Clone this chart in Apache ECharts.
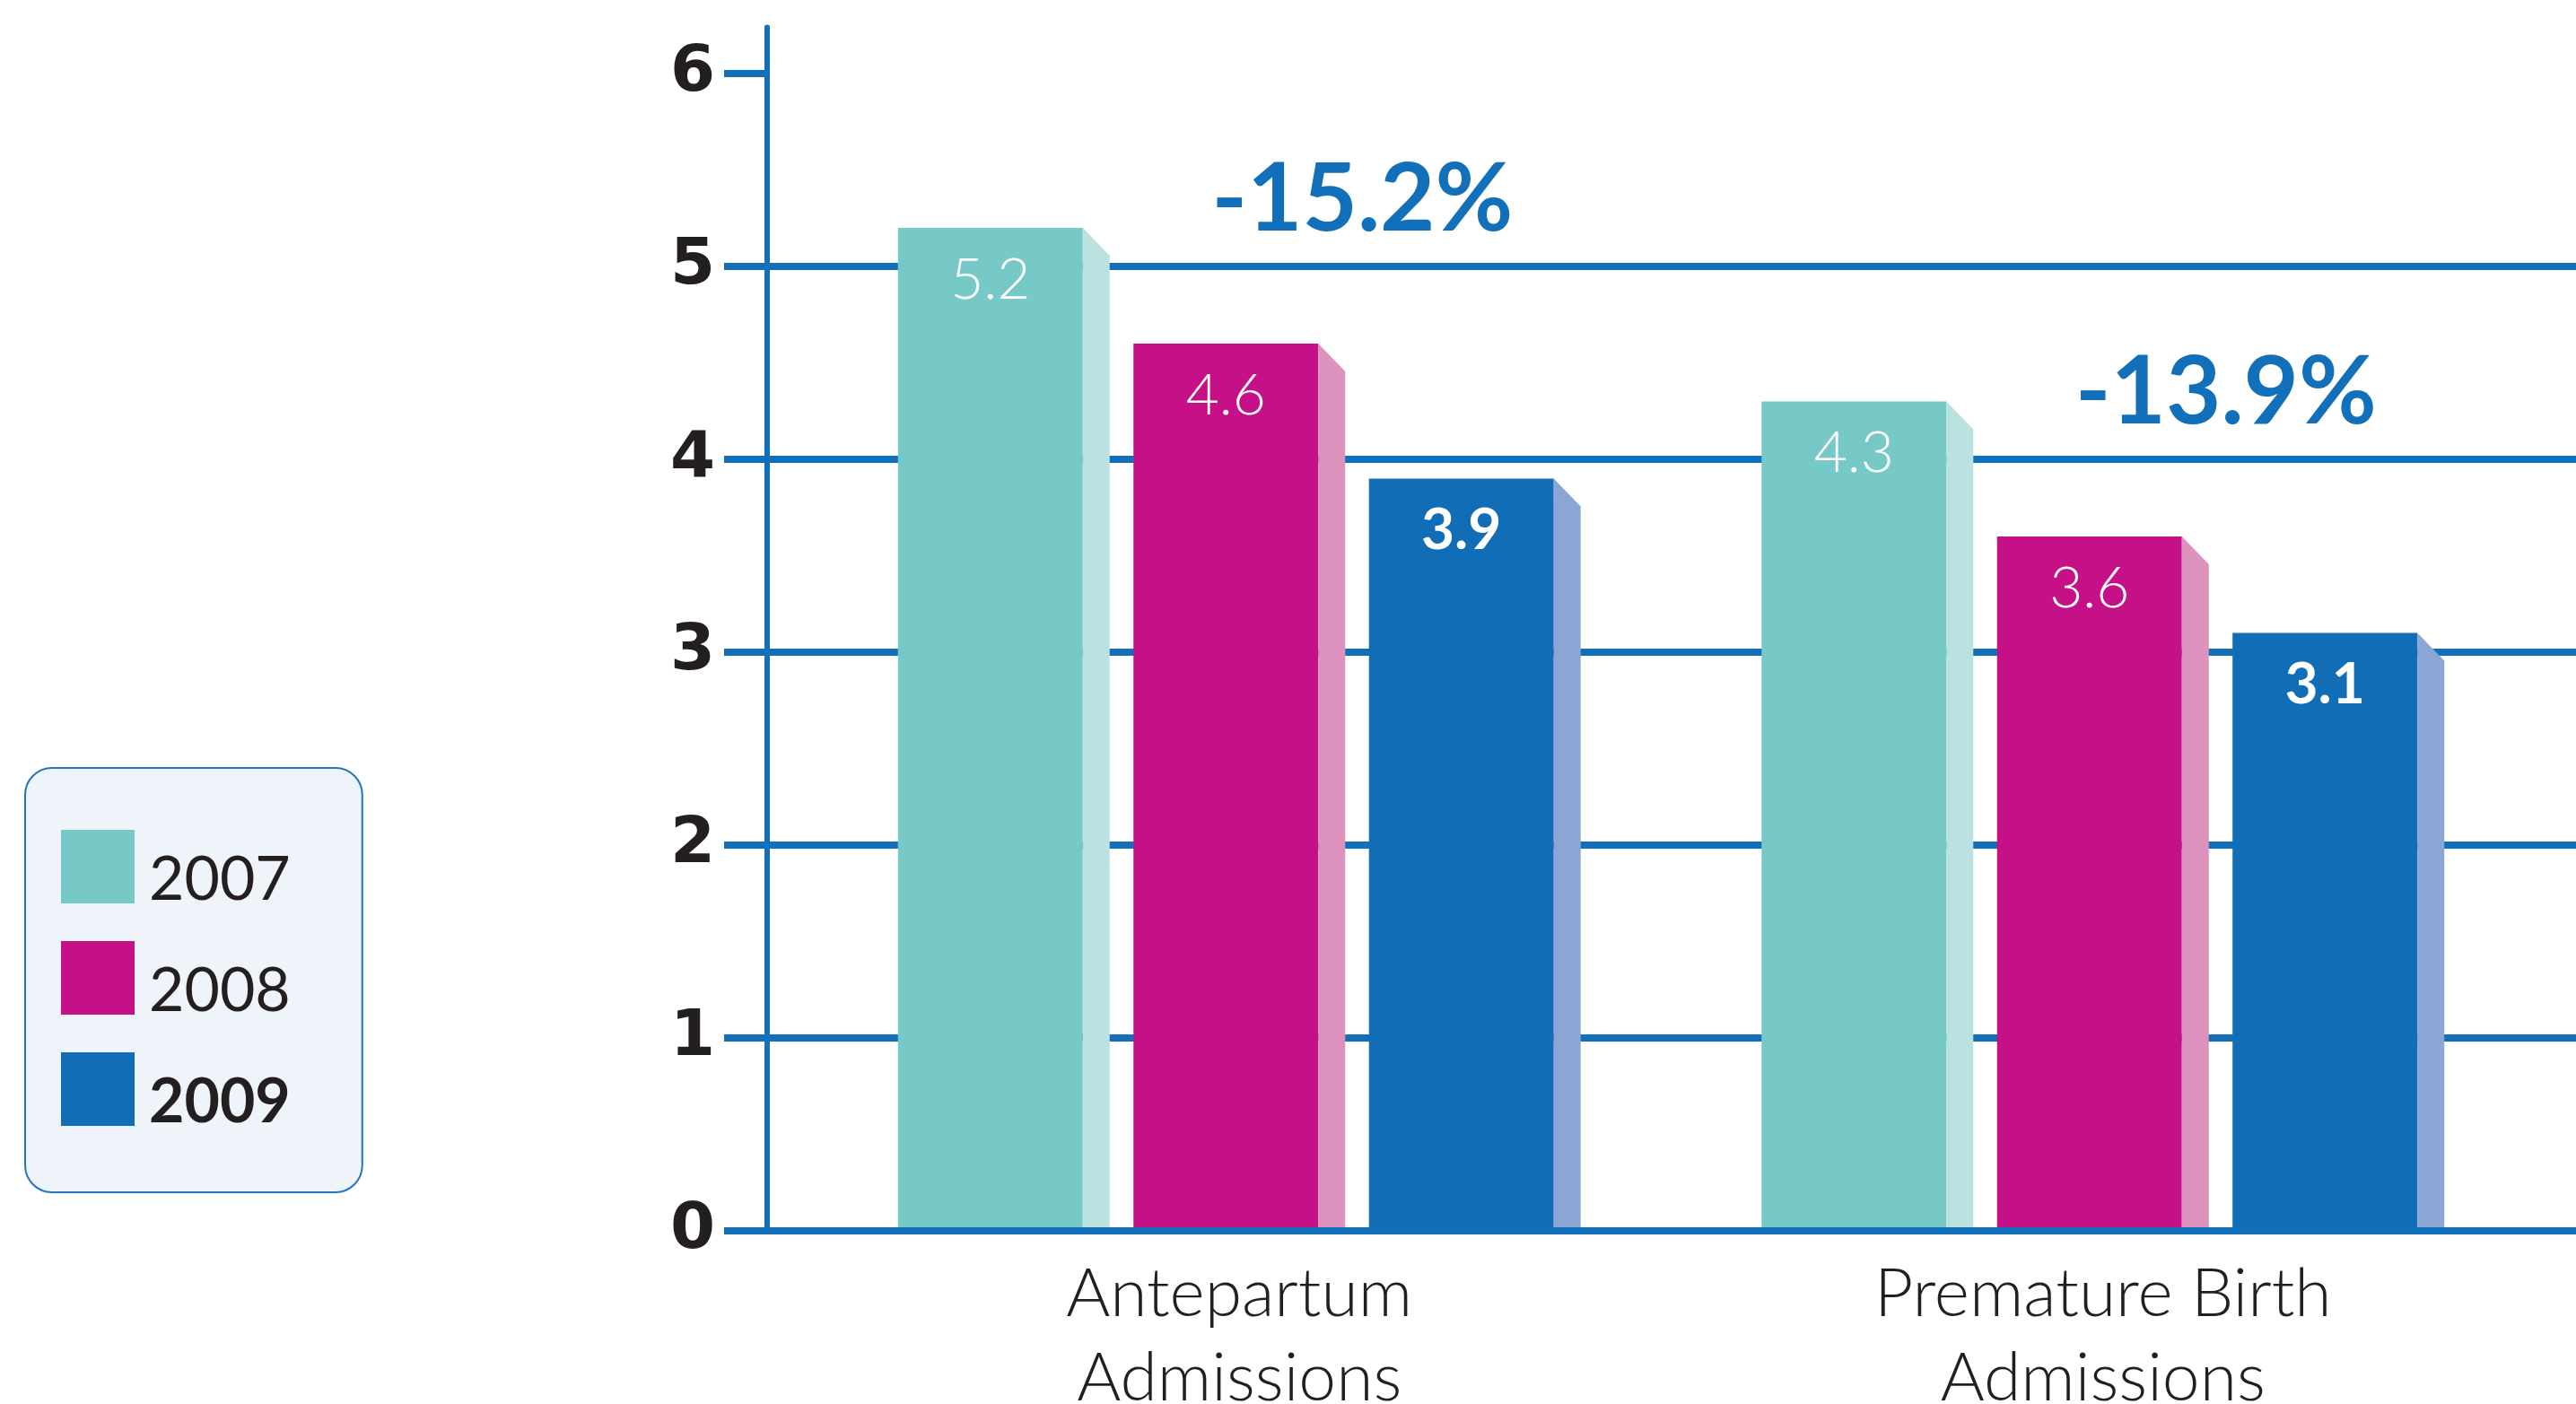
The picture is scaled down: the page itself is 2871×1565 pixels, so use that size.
<!DOCTYPE html>
<html><head><meta charset="utf-8">
<script src="https://cdn.jsdelivr.net/npm/echarts@6/dist/echarts.min.js"></script>
<style>html,body{margin:0;padding:0;background:#fff;}#c{width:2871px;height:1565px;}</style>
</head><body><div id="c"></div>
<script>
// ---- data ----
const categories = ['Antepartum\nAdmissions', 'Premature Birth\nAdmissions'];
const years = ['2007', '2008', '2009'];
const values2007 = [5.2, 4.3];
const values2008 = [4.6, 3.6];
const values2009 = [3.9, 3.1];
const changeLabels = ['-15.2%', '-13.9%'];
const yTicks = [0, 1, 2, 3, 4, 5, 6];

// ---- styles ----
const BLUE = '#1170b9';
const INK = '#231f20';
const frontColors = ['#76c9c7', '#c51087', '#116db6'];
const sideColors = ['#b9e2e1', '#dc92bd', '#8ba6d5'];
const labelFonts = ['300 64px Lato', '300 64px Lato', 'bold 64px Lato'];
const yMax = 6.24;   // axis line runs a little above the top gridline
const seriesValues = [values2007, values2008, values2009];

function geom(api, cat) {
  const band = api.size([1, 0])[0];
  const front = band * 0.214, side = band * 0.0312, pitch = band * 0.2727;
  const groupW = 2 * pitch + front + side;
  const c = api.coord([cat, 0]);
  return { band, front, side, pitch, groupW, cx: c[0], y0: c[1] };
}

function makeRender(k) {
  return function (params, api) {
    const cat = api.value(0), v = api.value(1);
    const g = geom(api, cat);
    const x0 = g.cx - g.groupW / 2 + k * g.pitch;
    const yTop = api.coord([cat, v])[1];
    const yBot = g.y0;
    const slant = g.side * 1.03;
    return {
      type: 'group',
      children: [
        { type: 'rect', shape: { x: x0, y: yTop, width: g.front, height: yBot - yTop },
          style: { fill: frontColors[k] } },
        { type: 'polygon', shape: { points: [[x0 + g.front, yTop], [x0 + g.front + g.side, yTop + slant],
            [x0 + g.front + g.side, yBot], [x0 + g.front, yBot]] },
          style: { fill: sideColors[k] } },
        { type: 'text', x: x0 + g.front / 2, y: yTop + 58,
          style: { text: String(v), fill: '#ffffff', font: labelFonts[k], align: 'center', verticalAlign: 'middle' } }
      ]
    };
  };
}

const barSeries = years.map((name, k) => ({
  type: 'custom',
  name: name,
  xAxisIndex: 1, yAxisIndex: 1,
  itemStyle: { color: frontColors[k] },
  encode: { x: 0, y: 1 },
  data: seriesValues[k].map((v, i) => [i, v]),
  renderItem: makeRender(k),
  z: 2
}));

// change annotation, placed above the 2008 bar of each group
const changeSeries = {
  type: 'custom',
  name: 'change',
  xAxisIndex: 1, yAxisIndex: 1,
  encode: { x: 0, y: 1 },
  data: values2008.map((v, i) => [i, v]),
  renderItem: function (params, api) {
    const cat = api.value(0), v = api.value(1);
    const g = geom(api, cat);
    const yRef = api.coord([cat, v])[1];
    return {
      type: 'text', x: g.cx + g.band * 0.1425, y: yRef - 160,
      style: { text: changeLabels[params.dataIndex], fill: '#126fba', font: 'bold 106px Lato',
               align: 'center', verticalAlign: 'middle' }
    };
  },
  z: 3
};

const chart = echarts.init(document.getElementById('c'), null, { renderer: 'canvas' });
chart.setOption({
  backgroundColor: '#ffffff',
  animation: false,
  grid: [
    { left: 855, right: 0, top: 30.4, bottom: 193, outerBoundsMode: 'none', containLabel: false },
    { left: 900, right: 46, top: 30.4, bottom: 193, outerBoundsMode: 'none', containLabel: false }
  ],
  xAxis: [
    { type: 'category', gridIndex: 0, data: categories, show: false },
    { type: 'category', gridIndex: 1, data: categories, z: 5,
      axisLine: { show: true, lineStyle: { color: BLUE, width: 8 } },
      axisTick: { show: false },
      axisLabel: { show: true, color: INK, fontFamily: 'Lato', fontWeight: 300, fontSize: 75,
                   lineHeight: 94, margin: 24 } }
  ],
  yAxis: [
    { type: 'value', gridIndex: 0, min: 0, max: yMax, interval: 1,
      axisLine: { show: true, lineStyle: { color: BLUE, width: 6 } },
      axisTick: { show: true, length: 48, customValues: yTicks, lineStyle: { color: BLUE, width: 8 } },
      axisLabel: { show: true, customValues: yTicks, margin: 58, color: INK,
                   fontFamily: 'DejaVu Sans', fontWeight: 'bold', fontSize: 72 },
      splitLine: { show: true, showMaxLine: false, lineStyle: { color: BLUE, width: 8 } }
    },
    { type: 'value', gridIndex: 1, min: 0, max: yMax, interval: 1, show: false,
      splitLine: { show: false } }
  ],
  legend: {
    orient: 'vertical', left: 28, top: 856,
    padding: [69, 80, 66, 40],
    itemWidth: 82, itemHeight: 82, itemGap: 34,
    icon: 'rect', selectedMode: false,
    backgroundColor: '#eff3fa', borderColor: '#1f76c4', borderWidth: 2, borderRadius: 30,
    itemStyle: { borderWidth: 0 },
    formatter: function (name) { return (name === '2009' ? '{b|' : '{n|') + name + '}'; },
    textStyle: {
      color: INK, fontFamily: 'Lato', fontSize: 68,
      rich: {
        n: { color: INK, fontFamily: 'Lato', fontWeight: 'normal', fontSize: 68, padding: [30, 0, 0, 11] },
        b: { color: INK, fontFamily: 'Lato', fontWeight: 'bold', fontSize: 68, padding: [30, 0, 0, 11] }
      }
    },
    data: ['2007', '2008', '2009']
  },
  series: barSeries.concat([changeSeries])
});
</script>
</body></html>
